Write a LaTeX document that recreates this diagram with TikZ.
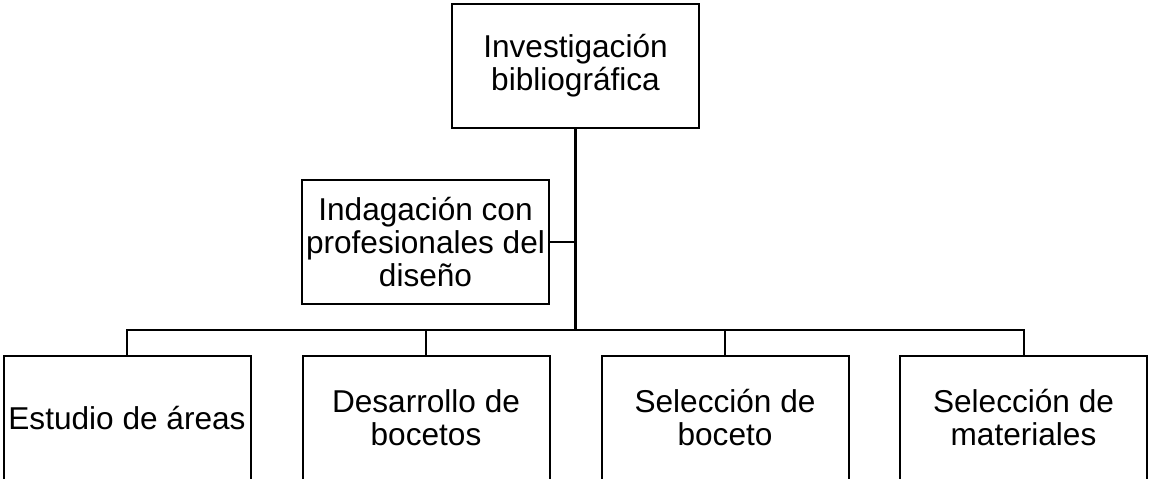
\documentclass[tikz,border=0pt]{standalone}
\usepackage{fontspec}
\setmainfont{Liberation Sans}
\begin{document}
\begin{tikzpicture}[x=1pt,y=-1pt,
  box/.style={draw=black, line width=2pt, minimum width=247pt, minimum height=124pt,
    inner sep=0pt, align=center, font=\fontsize{31.6}{33}\selectfont},
  link/.style={draw=black, line width=2pt},
  trunk/.style={draw=black, line width=3pt}]
\useasboundingbox (0,0) rectangle (1149,479);
\node[box] (top) at (575.5,66) {Investigación\\bibliográfica};
\node[box] (mid) at (425.5,242) {Indagación con\\profesionales del\\diseño};
\node[box] (b1) at (127,418) {Estudio de áreas};
\node[box] (b2) at (426,418) {Desarrollo de\\bocetos};
\node[box] (b3) at (725,418) {Selección de\\boceto};
\node[box] (b4) at (1023.5,418) {Selección de\\materiales};
\coordinate (hub) at (575.5,330);
\draw[trunk] (top.south) -- (hub);
\draw[link] (mid.east) -- (mid.east -| hub);
\draw[link] (b1.north) |- (hub);
\draw[link] (b2.north) |- (hub);
\draw[link] (b3.north) |- (hub);
\draw[link] (b4.north) |- (hub);
\end{tikzpicture}
\end{document}
